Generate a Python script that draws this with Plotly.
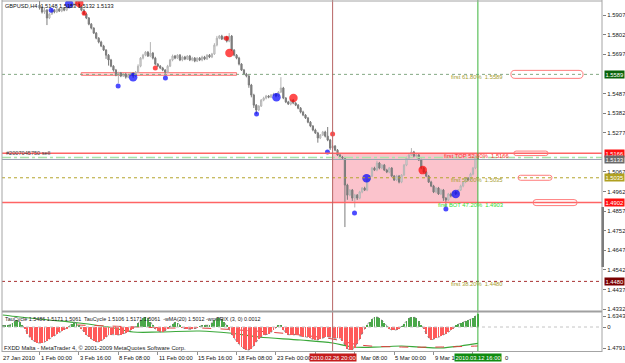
import plotly.graph_objects as go

# ---------------- data ----------------
# H4 bars, index 0 = 1 Feb 2010 00:00, index 178 = 12 Mar 2010 16:00
first_open = 1.5960
closes = [
    1.5944, 1.5923, 1.5933, 1.5891, 1.5912, 1.5933, 1.5923, 1.5939, 1.5928, 1.5944,
    1.5933, 1.5950, 1.5955, 1.5960, 1.5966, 1.5971, 1.5955, 1.5933, 1.5912, 1.5891,
    1.5858, 1.5837, 1.5810, 1.5783, 1.5762, 1.5741, 1.5719, 1.5692, 1.5666, 1.5633,
    1.5612, 1.5585, 1.5596, 1.5580, 1.5591, 1.5574, 1.5585, 1.5596, 1.5580, 1.5601,
    1.5633, 1.5676, 1.5692, 1.5708, 1.5687, 1.5703, 1.5676, 1.5644, 1.5633, 1.5623,
    1.5612, 1.5601, 1.5633, 1.5666, 1.5687, 1.5676, 1.5692, 1.5666, 1.5682, 1.5671,
    1.5687, 1.5666, 1.5676, 1.5660, 1.5676, 1.5666, 1.5682, 1.5671, 1.5692, 1.5682,
    1.5698, 1.5746, 1.5783, 1.5794, 1.5778, 1.5789, 1.5767, 1.5794, 1.5719, 1.5692,
    1.5676, 1.5644, 1.5612, 1.5591, 1.5580, 1.5532, 1.5478, 1.5424, 1.5398, 1.5419,
    1.5451, 1.5462, 1.5473, 1.5467, 1.5478, 1.5483, 1.5473, 1.5494, 1.5516, 1.5462,
    1.5441, 1.5430, 1.5451, 1.5435, 1.5424, 1.5408, 1.5387, 1.5371, 1.5355, 1.5333,
    1.5312, 1.5291, 1.5275, 1.5248, 1.5264, 1.5280, 1.5258, 1.5237, 1.5194, 1.5205,
    1.5183, 1.5157, 1.5146, 1.5141, 1.4996, 1.4942, 1.4969, 1.4926, 1.4942, 1.4926,
    1.4959, 1.4980, 1.4969, 1.5023, 1.5044, 1.5087, 1.5076, 1.5114, 1.5087, 1.5103,
    1.5076, 1.5066, 1.5087, 1.5044, 1.5023, 1.5044, 1.5012, 1.5050, 1.5103, 1.5141,
    1.5157, 1.5173, 1.5151, 1.5157, 1.5130, 1.5087, 1.5066, 1.5044, 1.5012, 1.4991,
    1.4959, 1.4980, 1.4948, 1.4969, 1.4926, 1.4916, 1.4948, 1.4937, 1.4959, 1.4948,
    1.4969, 1.4991, 1.5012, 1.5033, 1.5023, 1.5055, 1.5087, 1.5148, 1.5133,
]
# upper / lower shadow length of each candle, in pips
wick_up_pips = [
    25, 10, 12, 6, 5, 10, 6, 7, 5, 6,
    6, 10, 10, 10, 10, 8, 6, 5, 7, 6,
    5, 6, 4, 6, 5, 7, 6, 5, 6, 6,
    5, 6, 7, 6, 5, 6, 8, 6, 5, 6,
    10, 6, 7, 6, 5, 59, 6, 7, 5, 6,
    6, 5, 7, 6, 8, 6, 5, 6, 7, 6,
    5, 6, 7, 6, 5, 6, 7, 6, 5, 6,
    6, 10, 12, 6, 7, 6, 5, 16, 6, 5,
    6, 7, 5, 6, 6, 5, 6, 7, 6, 5,
    6, 7, 6, 5, 6, 7, 6, 5, 58, 6,
    5, 6, 7, 6, 5, 6, 6, 7, 5, 6,
    6, 5, 7, 6, 5, 6, 7, 49, 6, 6,
    5, 6, 7, 6, 6, 7, 5, 6, 7, 6,
    6, 5, 7, 6, 5, 6, 7, 12, 6, 5,
    6, 7, 6, 5, 6, 7, 6, 5, 6, 7,
    6, 21, 6, 5, 6, 7, 6, 5, 6, 7,
    6, 5, 6, 7, 6, 5, 6, 7, 6, 5,
    6, 7, 6, 5, 6, 7, 6, 6, 5,
]
wick_dn_pips = [
    8, 8, 10, 38, 6, 5, 7, 6, 5, 6,
    6, 5, 7, 6, 5, 6, 7, 6, 5, 6,
    6, 7, 5, 6, 7, 6, 5, 20, 30, 6,
    8, 6, 43, 6, 5, 8, 6, 7, 10, 6,
    5, 6, 7, 6, 5, 6, 7, 6, 5, 6,
    6, 10, 6, 5, 7, 6, 5, 6, 7, 6,
    5, 6, 7, 6, 5, 6, 7, 6, 5, 6,
    6, 5, 7, 6, 5, 6, 7, 6, 5, 6,
    6, 7, 5, 6, 7, 15, 12, 15, 22, 6,
    5, 6, 7, 6, 5, 6, 7, 6, 5, 6,
    6, 5, 7, 6, 5, 6, 7, 6, 5, 6,
    6, 7, 5, 25, 6, 5, 7, 6, 10, 6,
    6, 5, 7, 6, 225, 25, 6, 15, 50, 10,
    6, 7, 5, 6, 7, 6, 5, 6, 7, 6,
    5, 6, 7, 6, 5, 6, 7, 6, 5, 6,
    6, 5, 7, 6, 5, 6, 7, 6, 5, 6,
    6, 7, 5, 6, 15, 38, 6, 7, 5, 6,
    6, 5, 7, 6, 5, 6, 7, 6, 1,
]

# wmTRIX histogram (x 1e-4), bars -15 .. 178
hist_first_idx = -15
wmtrix_x1e4 = [
    1.0, 1.5, 1.8, 2.0, 3.5, 5.5, 6.5, 5.0, 2.0, -2.0,
    -6.0, -9.5, -12.0, -13.5, -14.5,
    -14.8, -14.8, -14.0, -12.5, -11.0, -9.5, -8.0, -6.5, -5.0, -3.8,
    -2.5, -1.2, 0.5, 3.0, 4.6, 3.5, 1.0, -2.0, -5.0, -7.5,
    -9.5, -11.0, -12.5, -13.5, -13.8, -13.0, -11.5, -9.5, -7.5, -7.0,
    -6.8, -7.2, -7.4, -7.0, -6.5, -5.5, -4.5, -3.0, -1.5, 0.5,
    3.5, 6.5, 8.5, 9.2, 8.0, 5.0, 1.0, -2.0, -3.5, -4.6,
    -4.5, -3.5, -2.0, 0.5, 3.0, 4.6, 4.0, 2.0, -0.5, -1.2,
    -1.8, -2.2, -2.0, -1.5, -0.8, 0.5, 1.2, 1.8, 1.5, 2.0,
    4.0, 6.5, 8.0, 8.3, 7.0, 4.5, 1.0, -3.0, -7.0, -10.5,
    -13.5, -16.0, -18.5, -20.0, -21.0, -21.2, -20.0, -17.5, -14.0, -11.0,
    -9.0, -7.5, -7.0, -6.5, -5.0, -3.0, -0.8, 1.5, 1.0, -2.5,
    -5.5, -7.0, -7.5, -7.4, -7.0, -7.5, -8.5, -9.2, -9.0, -9.5,
    -10.5, -11.5, -12.0, -12.0, -11.0, -10.0, -9.5, -9.0, -9.5, -10.0,
    -10.5, -10.0, -10.5, -13.0, -17.0, -20.0, -21.2, -21.0, -19.0, -15.5,
    -11.0, -6.0, -1.5, 2.0, 5.0, 7.5, 9.0, 9.2, 8.5, 6.5,
    3.5, 0.5, -1.5, -2.8, -3.0, -2.5, -1.5, 0.5, 3.0, 6.0,
    8.0, 9.0, 9.2, 8.0, 5.5, 2.0, -2.0, -6.0, -10.0, -12.0,
    -11.5, -10.5, -9.5, -8.5, -7.5, -6.5, -5.0, -3.0, -1.0, 1.0,
    2.5, 3.5, 4.5, 5.5, 6.5, 7.0, 8.0, 10.0, 12.0,
]

# wMA(20) (green) and second MA (red dashed) in the sub-window, price units
wma_idx = [-15, -8, 4, 16, 28, 38, 49, 65, 77, 89, 106, 119, 127, 138, 147, 154, 163, 171, 178]
wma_val = [1.6391, 1.6294, 1.6149, 1.6003, 1.5809, 1.5567, 1.5567, 1.5615, 1.5518, 1.5324,
           1.5179, 1.5033, 1.4839, 1.4839, 1.4888, 1.4839, 1.4791, 1.4888, 1.5012]
ma2_idx = [15, 28, 40, 53, 65, 81, 93, 106, 119, 130, 147, 163, 178]
ma2_val = [1.5906, 1.5858, 1.5809, 1.5761, 1.5761, 1.5664, 1.5567, 1.5421, 1.5227, 1.4936,
           1.4839, 1.4839, 1.4888]

# signal dots
dot_idx = [4.7, 12.0, 16.1, 18.1, 31.9, 38.0, 47.0, 51.1, 75.9, 77.1,
           88.1, 96.2, 103.1, 116.9, 119.0, 127.9, 132.8, 155.6, 165.0, 169.0]
dot_price = [1.5933, 1.5966, 1.5971, 1.5917, 1.5526, 1.5574, 1.5623, 1.5569, 1.5783, 1.5703,
             1.5376, 1.5467, 1.5462, 1.5173, 1.5269, 1.4846, 1.5033, 1.5076, 1.4868, 1.4948]
dot_kind = ["bs", "bb", "rb", "rs", "bs", "bb", "rs", "bs", "rs", "rb",
            "bs", "bb", "rb", "bs", "rs", "bs", "bb", "rb", "bs", "bb"]

price_ticks = [1.5907, 1.5802, 1.5697, 1.5487, 1.5382, 1.5277, 1.5067, 1.4962,
               1.4857, 1.4752, 1.4647, 1.4542, 1.4437, 1.4332]
time_tick_idx = [-16, 0, 16, 32, 48, 64, 80, 96, 112, 128, 144, 160, 176]
# visible parts of the time labels (the rest is hidden behind the two date boxes)
time_tick_text = ["27 Jan 2010", "1 Feb 00:00", "3 Feb 16:00", "8 Feb 08:00", "11 Feb 00:00",
                  "15 Feb 16:00", "18 Feb 08:00", "23 Feb 00:00", "",
                  "Mar 08:00", "5 Mar 00:00", "9 Mar 1", "0"]

sell_price = 1.5166
sl_price = 1.5143
bid_price = 1.5133
fib_levels = [
    ("first 61.80%  1.5589", 1.5589),
    ("first TOP 52.80%  1.5166", 1.5166),
    ("first 50.00%  1.5035", 1.5035),
    ("first BOT 47.20%  1.4903", 1.4902),
    ("first 38.20%  1.4480", 1.4480),
]
open_idx, now_idx = 119, 178
title_text = "GBPUSD,H4  1.5148 1.5153 1.5132 1.5133"
sub_title = "TauCycle 1.5486 1.5171 1.5061  TauCycle 1.5106 1.5171 1.5061  -wMA(20) 1.5012 -wmTRIX (3, 0) 0.0012"

# ---------------- figure ----------------
W, H = 625, 363
def fx(p):
    return p / W
def fy(p):
    return 1 - p / H

X0, X1 = -15.26, 228.4
Y0, Y1 = 1.43213, 1.59820

bar_idx = list(range(len(closes)))
opens = [first_open] + closes[:-1]
highs = [max(o, c) + u * 1e-4 for o, c, u in zip(opens, closes, wick_up_pips)]
lows = [min(o, c) - d * 1e-4 for o, c, d in zip(opens, closes, wick_dn_pips)]
hist_idx = [hist_first_idx + i for i in range(len(wmtrix_x1e4))]

fig = go.Figure()

fig.add_trace(go.Bar(
    x=hist_idx, y=wmtrix_x1e4, xaxis="x", yaxis="y3", width=0.38,
    marker=dict(color=["#4aa84a" if v >= 0 else "#ff5a5a" for v in wmtrix_x1e4], line=dict(width=0)),
    hoverinfo="skip"))
fig.add_trace(go.Scatter(
    x=hist_idx, y=wmtrix_x1e4, xaxis="x", yaxis="y3", mode="lines",
    line=dict(color="#808080", width=0.8, dash="dot"), hoverinfo="skip"))
fig.add_trace(go.Scatter(
    x=wma_idx, y=wma_val, xaxis="x", yaxis="y2", mode="lines",
    line=dict(color="#3aa83a", width=1.2, shape="spline"), hoverinfo="skip"))
fig.add_trace(go.Scatter(
    x=ma2_idx, y=ma2_val, xaxis="x", yaxis="y2", mode="lines",
    line=dict(color="#e04040", width=1, dash="dash", shape="spline"), hoverinfo="skip"))

fig.add_trace(go.Candlestick(
    x=bar_idx, open=opens, high=highs, low=lows, close=closes, xaxis="x", yaxis="y",
    whiskerwidth=0,
    increasing=dict(line=dict(color="#b4b4b4", width=1), fillcolor="#e6e6e6"),
    decreasing=dict(line=dict(color="#7c7c7c", width=1), fillcolor="#7c7c7c"),
    hoverinfo="skip"))

kind_style = {"bs": ("#0000ff", 5), "bb": ("#0000ff", 8.5), "rs": ("#ff0000", 5), "rb": ("#ff0000", 8.5)}
fig.add_trace(go.Scatter(
    x=dot_idx, y=dot_price, xaxis="x", yaxis="y", mode="markers",
    marker=dict(color=[kind_style[k][0] for k in dot_kind], size=[kind_style[k][1] for k in dot_kind],
                line=dict(width=0)),
    hoverinfo="skip"))

shapes = []
# pink order zone
shapes.append(dict(type="rect", xref="x", yref="y", x0=open_idx, x1=now_idx, y0=1.4902, y1=1.5166,
                   fillcolor="#fbc3cc", line=dict(width=0), layer="below"))
# thin red band at 61.8
shapes.append(dict(type="rect", xref="x", yref="y", x0=16.9, x1=80.0, y0=1.5584, y1=1.5598,
                   fillcolor="#ffe4e4", line=dict(color="#ff7070", width=1), layer="below"))
# horizontal levels
def hline(y, color, width, dash, yref="y"):
    shapes.append(dict(type="line", xref="x domain", yref=yref, x0=0, x1=1, y0=y, y1=y,
                       line=dict(color=color, width=width, dash=dash)))
hline(1.5589, "#84a884", 1, "dot")
hline(1.5035, "#b4a42c", 1, "dot")
hline(1.4480, "#a83030", 1, "dot")
hline(bid_price, "#9ca2b4", 1, "solid")
hline(sl_price, "#a8e4a8", 1.5, "dashdot")
hline(sell_price, "#ff6464", 1.5, "solid")
hline(1.4902, "#ff6464", 1.5, "solid")
hline(0, "#c4c4c4", 1, "dot", yref="y3")

# rounded marker boxes on the right
def pill(xa, xb, yc, hpx):
    h = hpx / 1866.7 / 2
    r = (hpx / 2) / 2.458
    path = (f"M {xa + r},{yc + h} L {xb - r},{yc + h} Q {xb},{yc + h} {xb},{yc} "
            f"Q {xb},{yc - h} {xb - r},{yc - h} L {xa + r},{yc - h} Q {xa},{yc - h} {xa},{yc} "
            f"Q {xa},{yc + h} {xa + r},{yc + h} Z")
    shapes.append(dict(type="path", xref="x", yref="y", path=path,
                       line=dict(color="#ff7c7c", width=1)))
pill(191.4, 220.7, 1.5589, 8)
pill(192.6, 206.5, 1.5166, 4.5)
pill(194.3, 208.1, 1.5035, 5)
pill(200.4, 218.3, 1.4902, 6)

# vertical markers
shapes.append(dict(type="line", xref="x", yref="paper", x0=open_idx, x1=open_idx, y0=fy(352), y1=1,
                   line=dict(color="#b86464", width=1)))
shapes.append(dict(type="line", xref="x", yref="paper", x0=now_idx, x1=now_idx, y0=fy(352), y1=1,
                   line=dict(color="#3cb43c", width=1)))
# frame
frame = "#a4a4a4"
shapes += [
    dict(type="line", xref="paper", yref="paper", x0=fx(2), x1=fx(2), y0=fy(352), y1=1, line=dict(color=frame, width=1)),
    dict(type="line", xref="paper", yref="paper", x0=fx(602), x1=fx(602), y0=fy(352), y1=1, line=dict(color=frame, width=1)),
    dict(type="line", xref="paper", yref="paper", x0=fx(2), x1=fx(602), y0=fy(1), y1=fy(1), line=dict(color=frame, width=1)),
    dict(type="rect", xref="paper", yref="paper", x0=fx(2), x1=fx(602), y0=fy(312.5), y1=fy(310.5),
         fillcolor="#a0a0a0", line=dict(width=0)),
    dict(type="line", xref="paper", yref="paper", x0=fx(2), x1=fx(602), y0=fy(351.5), y1=fy(351.5), line=dict(color=frame, width=1)),
    dict(type="rect", xref="paper", yref="paper", x0=fx(601.5), x1=fx(604), y0=fy(267), y1=fy(207),
         fillcolor="#7c7c7c", line=dict(width=0)),
]

ann = []
def text(x, y, s, xref="paper", yref="paper", color="#202020", size=6, xanchor="left", yanchor="middle",
         bgcolor=None, yshift=0, xshift=0):
    d = dict(x=x, y=y, xref=xref, yref=yref, text=s, showarrow=False, xanchor=xanchor, yanchor=yanchor,
             font=dict(color=color, size=size), yshift=yshift, xshift=xshift, borderpad=0)
    if bgcolor:
        d["bgcolor"] = bgcolor
        d["borderpad"] = 0.5
    ann.append(d)

text(fx(4), fy(6), title_text, color="#101010", size=5.6)
text(fx(4), fy(318.5), sub_title, color="#202020", size=5.4)
text(fx(3), fy(348), "FXDD Malta - MetaTrader 4, \u00a9 2001-2009 MetaQuotes Software Corp.", color="#202020", size=5.8)
text(fx(5), sell_price, "#2007045750 sell", yref="y", color="#3c3c3c", yshift=0.5, size=5.6)

for (s, p), c in zip(fib_levels, ["#a8a030", "#ff3030", "#a8a030", "#30e030", "#a8a030"]):
    xr = 191.2 if "TOP" in s else 188.4
    text(xr, p, s, xref="x", yref="y", color=c, xanchor="right", yshift=-2.5, size=5.8)

label_shift = {"Mar 08:00": 5, "0": 31}
for idx, s in zip(time_tick_idx, time_tick_text):
    if s:
        text(max(idx, X0 + 0.2), fy(357.5), s, xref="x", color="#101010", size=5.8,
             xshift=label_shift.get(s, 0))

text(open_idx, fy(357.5), "2010.02.26 20:00", xref="x", color="white", xanchor="center", bgcolor="#c41c1c", size=5.8)
text(now_idx, fy(357.5), "2010.03.12 16:00", xref="x", color="white", xanchor="center", bgcolor="#108c10", size=5.8)

for p, bg in [(1.5589, "#0a640a"), (1.5166, "#ff1010"), (1.5133, "#6a6a6a"), (1.5035, "#b0a020"),
              (1.4902, "#ff1010"), (1.4480, "#7a0000")]:
    text(fx(603.5), p, f"{p:.4f}", yref="y", color="white", bgcolor=bg, size=5.8)

fig.update_layout(
    width=W, height=H, margin=dict(l=0, r=0, t=0, b=0),
    paper_bgcolor="white", plot_bgcolor="white", showlegend=False,
    font=dict(family="Liberation Sans, Arial, sans-serif", size=6, color="#202020"),
    bargap=0,
    xaxis=dict(domain=[fx(2), fx(602)], range=[X0, X1], anchor="y2", showgrid=False, zeroline=False,
               showticklabels=False, ticks="outside", tickvals=time_tick_idx, ticklen=3,
               tickcolor="#909090", rangeslider=dict(visible=False), showline=False),
    yaxis=dict(domain=[fy(311), fy(1)], range=[Y0, Y1], side="right", anchor="x", showgrid=False,
               zeroline=False, tickvals=price_ticks, ticktext=[f"{v:.4f}" for v in price_ticks],
               ticks="outside", ticklen=3, tickcolor="#808080", showline=False),
    yaxis2=dict(domain=[fy(351), fy(313)], range=[1.46455, 1.64884], side="right", anchor="x",
                showgrid=False, zeroline=False, tickvals=[1.6343, 1.4791], ticktext=["1.6343", "1.4791"],
                ticks="outside", ticklen=3, tickcolor="#808080"),
    yaxis3=dict(overlaying="y2", range=[-22.15, 12.92], side="right", anchor="x", showgrid=False,
                zeroline=False, tickvals=[0], ticktext=["0"], ticks="outside", ticklen=3, tickcolor="#808080"),
    shapes=shapes, annotations=ann,
)

fig.write_html("out.html")
